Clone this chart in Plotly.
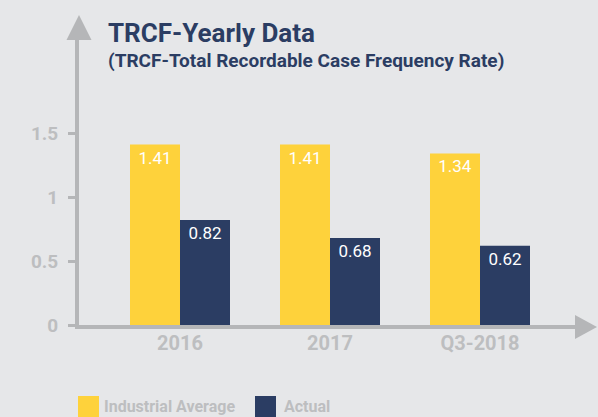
import plotly.graph_objects as go

categories = ["2016", "2017", "Q3-2018"]
industrial_average = [1.41, 1.41, 1.34]
actual = [0.82, 0.68, 0.62]
series_names = ["Industrial Average", "Actual"]
y_tick_vals = [0, 0.5, 1, 1.5]
y_tick_text = ["0", "0.5", "1", "1.5"]

W, H = 598, 417
L, R, T, B = 79, 22, 40, 92
PW, PH = W - L - R, H - T - B

def px(p):
    return (p - L) / PW

def py(p):
    return (H - B - p) / PH

YELLOW = "#FED23B"
NAVY = "#2B3D63"
GREY = "#B5B6B8"
LABEL_GREY = "#BDBEC0"
BG = "#E6E7E9"
FONT = "Roboto, Arial, sans-serif"

fig = go.Figure()
for name, vals, color in [(series_names[0], industrial_average, YELLOW),
                          (series_names[1], actual, NAVY)]:
    fig.add_trace(go.Bar(
        x=categories, y=vals, name=name, marker=dict(color=color, line=dict(width=0)),
        texttemplate="%{y:.2f}", textposition="inside", insidetextanchor="end",
        textangle=0, constraintext="none",
        textfont=dict(color="white", size=17, family=FONT),
        showlegend=False, hoverinfo="skip",
    ))

fig.update_layout(
    width=W, height=H, autosize=False,
    margin=dict(l=L, r=R, t=T, b=B, pad=0),
    paper_bgcolor=BG, plot_bgcolor=BG,
    barmode="group", bargap=1/3, bargroupgap=0,
    font=dict(family=FONT),
    xaxis=dict(
        type="category", range=[-101/150, (576-180)/150],
        showgrid=False, zeroline=False, showline=True, linecolor=GREY, linewidth=4,
        ticks="", tickfont=dict(size=20, color=LABEL_GREY, family=FONT, weight="bold"),
        ticklabelstandoff=-3,
    ),
    yaxis=dict(
        range=[0, PH / 128], showgrid=False, zeroline=False, showline=True,
        linecolor=GREY, linewidth=4, ticks="outside", ticklen=7, tickwidth=3, tickcolor=GREY,
        tickvals=y_tick_vals, ticktext=y_tick_text,
        tickfont=dict(size=19, color=LABEL_GREY, family=FONT, weight="bold"),
        ticklabelstandoff=6,
    ),
)

shapes = [
    # y-axis arrowhead
    dict(type="path", xref="paper", yref="paper",
         path=f"M {px(66.5)} {py(40)} L {px(91.5)} {py(40)} L {px(79)} {py(15)} Z",
         fillcolor=GREY, line=dict(width=0)),
    # x-axis arrowhead
    dict(type="path", xref="paper", yref="paper",
         path=f"M {px(575)} {py(315)} L {px(575)} {py(339)} L {px(597)} {py(327)} Z",
         fillcolor=GREY, line=dict(width=0)),
    # legend swatches
    dict(type="rect", xref="paper", yref="paper", x0=px(78), x1=px(99), y0=py(396), y1=py(420),
         fillcolor=YELLOW, line=dict(width=0)),
    dict(type="rect", xref="paper", yref="paper", x0=px(255), x1=px(276), y0=py(396), y1=py(420),
         fillcolor=NAVY, line=dict(width=0)),
]
fig.update_layout(shapes=shapes)

annotations = [
    dict(text="<b>TRCF-Yearly Data</b>",
         xref="paper", yref="paper", x=px(106), y=py(50), xanchor="left", yanchor="bottom",
         showarrow=False, font=dict(size=26, color=NAVY, family=FONT)),
    dict(text="<b>(TRCF-Total Recordable Case Frequency Rate)</b>",
         xref="paper", yref="paper", x=px(106), y=py(74), xanchor="left", yanchor="bottom",
         showarrow=False, font=dict(size=19, color=NAVY, family=FONT)),
    dict(text="<b>" + series_names[0] + "</b>", xref="paper", yref="paper",
         x=px(102), y=py(418), xanchor="left", yanchor="bottom", showarrow=False,
         font=dict(size=16, color=LABEL_GREY, family=FONT)),
    dict(text="<b>" + series_names[1] + "</b>", xref="paper", yref="paper",
         x=px(282), y=py(418), xanchor="left", yanchor="bottom", showarrow=False,
         font=dict(size=16, color=LABEL_GREY, family=FONT)),
]
fig.update_layout(annotations=annotations)

fig.write_html(
    "out.html",
    config={"displayModeBar": False},
    post_script="document.body.style.margin='0';document.body.style.padding='0';"
                "document.body.style.background='#E6E7E9';document.body.style.overflow='hidden';",
)
